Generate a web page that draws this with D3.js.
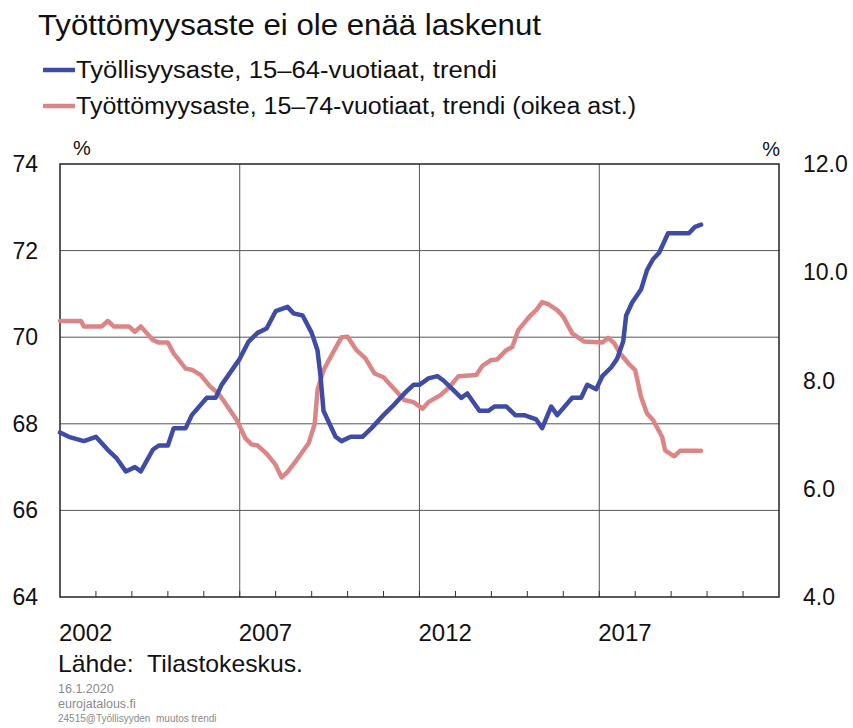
<!DOCTYPE html>
<html><head><meta charset="utf-8">
<script src="https://cdn.jsdelivr.net/npm/d3@7"></script>
<style>body{margin:0;background:#fff}svg{display:block;font-family:"Liberation Sans",Arial,sans-serif}</style>
</head><body><svg id="c" width="853" height="728"></svg>
<script>
const title = "Työttömyysaste ei ole enää laskenut";
const seriesNames = ["Työllisyysaste, 15–64-vuotiaat, trendi", "Työttömyysaste, 15–74-vuotiaat, trendi (oikea ast.)"];
const leftTicks = [64, 66, 68, 70, 72, 74];
const rightTicks = [4, 6, 8, 10, 12];
const xLabels = ["2002", "2007", "2012", "2017"];

const blueDates = ["2002-01","2002-04","2002-09","2003-01","2003-05","2003-08","2003-11","2004-02","2004-04","2004-08","2004-10","2005-01","2005-03","2005-07","2005-09","2006-02","2006-05","2006-07","2006-09","2007-01","2007-04","2007-07","2007-10","2008-01","2008-05","2008-07","2008-10","2009-01","2009-03","2009-04","2009-05","2009-07","2009-09","2009-11","2010-02","2010-06","2010-09","2011-01","2011-04","2011-08","2011-11","2012-01","2012-04","2012-07","2012-09","2012-12","2013-03","2013-05","2013-09","2013-12","2014-02","2014-06","2014-09","2014-12","2015-04","2015-06","2015-09","2015-11","2016-04","2016-07","2016-09","2016-12","2017-02","2017-05","2017-07","2017-09","2017-10","2017-12","2018-03","2018-05","2018-07","2018-09","2018-12","2019-07","2019-09","2019-11"];
const blueValues = [67.8,67.7,67.6,67.7,67.4,67.2,66.9,67.0,66.9,67.4,67.5,67.5,67.9,67.9,68.2,68.6,68.6,68.9,69.1,69.5,69.9,70.1,70.2,70.6,70.7,70.55,70.5,70.1,69.7,69.1,68.3,68.0,67.7,67.6,67.7,67.7,67.9,68.2,68.4,68.7,68.9,68.9,69.05,69.1,69.0,68.8,68.6,68.7,68.3,68.3,68.4,68.4,68.2,68.2,68.1,67.9,68.4,68.2,68.6,68.6,68.9,68.8,69.1,69.3,69.5,69.9,70.5,70.8,71.1,71.55,71.8,71.95,72.4,72.4,72.55,72.6];

const pinkDates = ["2002-01","2002-08","2002-09","2003-03","2003-05","2003-07","2003-12","2004-02","2004-04","2004-08","2004-10","2005-01","2005-03","2005-07","2005-09","2005-12","2006-03","2006-06","2006-08","2006-12","2007-03","2007-05","2007-07","2007-10","2008-01","2008-03","2008-05","2008-08","2008-12","2009-02","2009-03","2009-05","2009-08","2009-11","2010-01","2010-04","2010-07","2010-10","2011-01","2011-04","2011-08","2011-11","2012-02","2012-04","2012-08","2012-11","2013-02","2013-08","2013-10","2014-01","2014-03","2014-06","2014-08","2014-10","2015-02","2015-04","2015-06","2015-08","2015-11","2016-01","2016-04","2016-08","2017-02","2017-04","2017-06","2017-08","2017-11","2018-01","2018-03","2018-05","2018-07","2018-10","2018-11","2019-02","2019-04","2019-11"];
const pinkValues = [9.1,9.1,9.0,9.0,9.1,9.0,9.0,8.9,9.0,8.75,8.7,8.7,8.5,8.22,8.2,8.1,7.9,7.75,7.6,7.27,6.93,6.82,6.8,6.65,6.44,6.21,6.31,6.53,6.84,7.2,7.82,8.19,8.5,8.8,8.81,8.56,8.41,8.13,8.06,7.88,7.64,7.6,7.48,7.6,7.73,7.88,8.08,8.1,8.27,8.38,8.39,8.56,8.62,8.93,9.2,9.3,9.45,9.41,9.3,9.18,8.87,8.72,8.7,8.79,8.69,8.5,8.3,8.19,7.7,7.39,7.27,6.96,6.71,6.6,6.7,6.7];

const BLUE = "#3e4ca6", PINK = "#dc8587";
const svg = d3.select("#c");
const L = 60, R = 779, T = 164, B = 597;
const parse = d3.timeParse("%Y-%m");
const x = d3.scaleTime().domain([new Date(2002,0,1), new Date(2022,0,1)]).range([L, R]);
const yL = d3.scaleLinear().domain([64, 74]).range([B, T]);
const yR = d3.scaleLinear().domain([4, 12]).range([B, T]);

// grid
const g = svg.append("g");
g.selectAll("line.h").data(leftTicks.slice(1, -1)).join("line")
  .attr("x1", L).attr("x2", R).attr("y1", d => yL(d)).attr("y2", d => yL(d))
  .attr("stroke", "#555").attr("stroke-width", 1);
g.selectAll("line.v").data(xLabels.slice(1)).join("line")
  .attr("x1", d => x(new Date(+d,0,1))).attr("x2", d => x(new Date(+d,0,1)))
  .attr("y1", T).attr("y2", B).attr("stroke", "#555").attr("stroke-width", 1);

// year ticks (inward)
const years = d3.range(2003, 2022);
g.selectAll("line.t").data(years).join("line")
  .attr("x1", d => x(new Date(d,0,1))).attr("x2", d => x(new Date(d,0,1)))
  .attr("y1", B).attr("y2", B - 6).attr("stroke", "#333").attr("stroke-width", 1);

// frame
svg.append("rect").attr("x", L).attr("y", T).attr("width", R - L).attr("height", B - T)
  .attr("fill", "none").attr("stroke", "#222").attr("stroke-width", 1.5);

// lines
const blue = blueDates.map((d, i) => ({d: parse(d), v: blueValues[i]}));
const pink = pinkDates.map((d, i) => ({d: parse(d), v: pinkValues[i]}));
svg.append("path").datum(pink).attr("fill", "none").attr("stroke", PINK).attr("stroke-width", 4.5)
  .attr("stroke-linejoin", "round").attr("stroke-linecap", "round")
  .attr("d", d3.line().x(p => x(p.d)).y(p => yR(p.v)));
svg.append("path").datum(blue).attr("fill", "none").attr("stroke", BLUE).attr("stroke-width", 4.5)
  .attr("stroke-linejoin", "round").attr("stroke-linecap", "round")
  .attr("d", d3.line().x(p => x(p.d)).y(p => yL(p.v)));

// axis labels
svg.selectAll("text.yl").data(leftTicks).join("text")
  .attr("x", 38).attr("y", d => yL(d) + 8).attr("text-anchor", "end")
  .attr("font-size", 23).attr("fill", "#111").text(d => d);
svg.selectAll("text.yr").data(rightTicks).join("text")
  .attr("x", 803).attr("y", d => yR(d) + 8).attr("text-anchor", "start")
  .attr("font-size", 23).attr("fill", "#111").text(d => d.toFixed(1));
svg.selectAll("text.xl").data(xLabels).join("text")
  .attr("x", d => x(new Date(+d,0,1)) - 1).attr("y", 641).attr("text-anchor", "start")
  .attr("font-size", 24).attr("fill", "#111").text(d => d);
svg.append("text").attr("x", 82).attr("y", 155).attr("text-anchor", "middle")
  .attr("font-size", 20).attr("fill", "#111").text("%");
svg.append("text").attr("x", 780).attr("y", 156).attr("text-anchor", "end")
  .attr("font-size", 20).attr("fill", "#111").text("%");

// title & legend
svg.append("text").attr("x", 38).attr("y", 35).attr("font-size", 29).attr("fill", "#111")
  .attr("textLength", 503).attr("lengthAdjust", "spacingAndGlyphs").text(title);
const legY = [70, 106], legW = [421, 560], legC = [BLUE, PINK];
seriesNames.forEach((s, i) => {
  svg.append("line").attr("x1", 43).attr("x2", 75).attr("y1", legY[i]).attr("y2", legY[i])
    .attr("stroke", legC[i]).attr("stroke-width", 4.5);
  svg.append("text").attr("x", 76).attr("y", legY[i] + 8).attr("font-size", 23).attr("fill", "#111")
    .attr("textLength", legW[i]).attr("lengthAdjust", "spacingAndGlyphs").text(s);
});

// source
svg.append("text").attr("x", 58).attr("y", 672).attr("font-size", 24).attr("fill", "#111")
  .attr("xml:space", "preserve").attr("textLength", 245).attr("lengthAdjust", "spacingAndGlyphs")
  .text("Lähde:  Tilastokeskus.");
svg.append("text").attr("x", 58).attr("y", 693).attr("font-size", 12.5).attr("fill", "#8a8a8a").text("16.1.2020");
svg.append("text").attr("x", 58).attr("y", 708).attr("font-size", 12.5).attr("fill", "#8a8a8a").text("eurojatalous.fi");
svg.append("text").attr("x", 58).attr("y", 722).attr("font-size", 10).attr("fill", "#8a8a8a")
  .attr("xml:space", "preserve").text("24515@Työllisyyden  muutos trendi");
</script></body></html>
